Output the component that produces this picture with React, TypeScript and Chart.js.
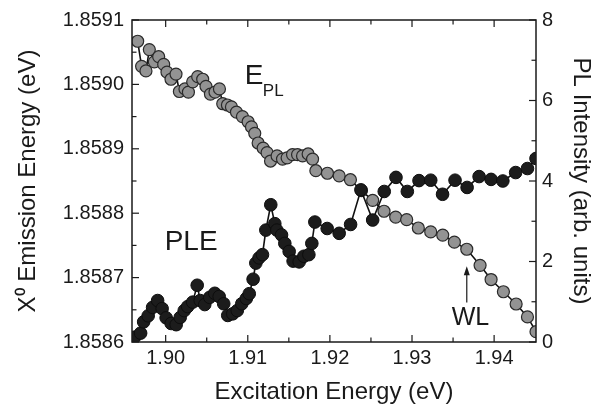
import React, { useEffect, useRef } from "react";
import { Chart, registerables } from "chart.js";

Chart.register(...registerables);

// E_PL (left axis, eV) — grey markers
const plX = [
  1.89659, 1.89707, 1.8976, 1.89801, 1.89862, 1.89915, 1.89976, 1.90016, 1.90065, 1.90126,
  1.90167, 1.90235, 1.90277, 1.90329, 1.9039, 1.90451, 1.90491, 1.90545, 1.90601, 1.90655,
  1.90695, 1.90752, 1.90801, 1.90862, 1.90935, 1.91004, 1.91045, 1.91085, 1.91126, 1.91187,
  1.91235, 1.91277, 1.91357, 1.91423, 1.91479, 1.91545, 1.91606, 1.91667, 1.91735, 1.91789,
  1.91829, 1.9197, 1.92113, 1.9225, 1.92384, 1.92521, 1.92659, 1.92801, 1.92935, 1.93077,
  1.93228, 1.93374, 1.93516, 1.93667, 1.93829, 1.93963, 1.94113, 1.94268, 1.94406, 1.9451,
];
const plY = [
  1.859067, 1.859028, 1.859021, 1.859054, 1.859035, 1.859043, 1.859031, 1.859019, 1.859008, 1.859016,
  1.858989, 1.858993, 1.858988, 1.859004, 1.859012, 1.859008, 1.858997, 1.858985, 1.858988, 1.858993,
  1.85897, 1.858968, 1.858965, 1.858957, 1.85895, 1.858942, 1.858934, 1.858924, 1.858909, 1.858901,
  1.858894, 1.858881, 1.858889, 1.858884, 1.858886, 1.858891, 1.858891, 1.858889, 1.858892, 1.858884,
  1.858866, 1.858862, 1.858858, 1.858852, 1.858835, 1.85882, 1.858803, 1.858794, 1.85879, 1.858777,
  1.858771, 1.858766, 1.858755, 1.858744, 1.858719, 1.858697, 1.858678, 1.858659, 1.858639, 1.858616,
];

// PLE (right axis, arb. units) — black markers
const pleX = [
  1.89622, 1.89695, 1.89732, 1.89787, 1.89841, 1.89902, 1.89957, 1.90006, 1.90067, 1.90128,
  1.90177, 1.90226, 1.90268, 1.90329, 1.90384, 1.90421, 1.90476, 1.90537, 1.90598, 1.90652,
  1.90707, 1.90756, 1.90817, 1.90872, 1.90927, 1.90982, 1.91018, 1.91065, 1.91098, 1.91138,
  1.91179, 1.9122, 1.9128, 1.91329, 1.91354, 1.91411, 1.91451, 1.91504, 1.91552, 1.91626,
  1.91683, 1.91744, 1.9178, 1.91817, 1.91967, 1.92113, 1.92252, 1.92378, 1.92521, 1.92662,
  1.92805, 1.92943, 1.93085, 1.93228, 1.93372, 1.93524, 1.93671, 1.93817, 1.93963, 1.94106,
  1.94262, 1.94406, 1.9451,
];
const pleY = [
  0.12, 0.22, 0.5, 0.65, 0.86, 1.03, 0.83, 0.6, 0.46, 0.43,
  0.61, 0.78, 0.88, 0.99, 1.41, 1.03, 0.93, 1.11, 1.21, 1.13,
  0.95, 0.66, 0.7, 0.78, 0.95, 1.08, 1.2, 1.56, 1.96, 2.09,
  2.17, 2.78, 3.41, 2.94, 2.78, 2.66, 2.45, 2.25, 2.01, 1.99,
  2.13, 2.17, 2.45, 2.98, 2.82, 2.7, 2.92, 3.78, 3.03, 3.74,
  4.09, 3.74, 4.01, 4.02, 3.67, 4.02, 3.84, 4.11, 4.04, 4.0,
  4.21, 4.31, 4.56,
];

const xTicks = [1.9, 1.91, 1.92, 1.93, 1.94];
const xMinor = [1.905, 1.915, 1.925, 1.935];
const leftTicks = [1.8586, 1.8587, 1.8588, 1.8589, 1.859, 1.8591];
const leftMinor = [1.85865, 1.85875, 1.85885, 1.85895, 1.85905];
const rightTicks = [0, 2, 4, 6, 8];
const rightMinor = [1, 3, 5, 7];

const FONT = "'Liberation Sans', Arial, Helvetica, sans-serif";
const INK = "#1a1a1a";

const decorPlugin = {
  id: "decor",
  afterDatasetsDraw(chart: any) {
    const { ctx, chartArea, scales } = chart;
    const { left, right, top, bottom } = chartArea;
    const sx = scales.x, sy = scales.y, sr = scales.y1;
    ctx.save();
    ctx.strokeStyle = INK;
    ctx.lineWidth = 1.5;
    ctx.strokeRect(left, top, right - left, bottom - top);
    ctx.lineWidth = 1.2;
    const MAJ = 7, MIN = 4.5;
    const hTick = (v: number, len: number) => {
      const p = sx.getPixelForValue(v);
      ctx.beginPath();
      ctx.moveTo(p, bottom); ctx.lineTo(p, bottom - len);
      ctx.moveTo(p, top); ctx.lineTo(p, top + len);
      ctx.stroke();
    };
    xTicks.forEach((v) => hTick(v, MAJ));
    xMinor.forEach((v) => hTick(v, MIN));
    const lTick = (v: number, len: number) => {
      const p = sy.getPixelForValue(v);
      ctx.beginPath(); ctx.moveTo(left, p); ctx.lineTo(left + len, p); ctx.stroke();
    };
    leftTicks.forEach((v) => lTick(v, MAJ));
    leftMinor.forEach((v) => lTick(v, MIN));
    const rTick = (v: number, len: number) => {
      const p = sr.getPixelForValue(v);
      ctx.beginPath(); ctx.moveTo(right, p); ctx.lineTo(right - len, p); ctx.stroke();
    };
    rightTicks.forEach((v) => rTick(v, MAJ));
    rightMinor.forEach((v) => rTick(v, MIN));

    // annotations
    ctx.fillStyle = INK;
    ctx.textBaseline = "alphabetic";
    ctx.textAlign = "left";
    ctx.font = `28px ${FONT}`;
    ctx.fillText("E", sx.getPixelForValue(1.90963), sy.getPixelForValue(1.859));
    ctx.font = `17px ${FONT}`;
    ctx.fillText("PL", sx.getPixelForValue(1.91183), sy.getPixelForValue(1.858982));
    ctx.font = `28px ${FONT}`;
    ctx.fillText("PLE", sx.getPixelForValue(1.89988), sr.getPixelForValue(2.275));
    ctx.font = `25px ${FONT}`;
    ctx.fillText("WL", sx.getPixelForValue(1.93484), sr.getPixelForValue(0.416));

    // WL arrow
    const ax = sx.getPixelForValue(1.93667);
    const ay1 = sr.getPixelForValue(0.98);
    const ay0 = sr.getPixelForValue(1.88);
    ctx.lineWidth = 1.2;
    ctx.beginPath(); ctx.moveTo(ax, ay1); ctx.lineTo(ax, ay0 + 4); ctx.stroke();
    ctx.beginPath();
    ctx.moveTo(ax, ay0); ctx.lineTo(ax - 3, ay0 + 9); ctx.lineTo(ax + 3, ay0 + 9); ctx.closePath();
    ctx.fill();
    ctx.restore();
  },
};

export default function App() {
  const ref = useRef<HTMLCanvasElement | null>(null);
  useEffect(() => {
    if (!ref.current) return;
    const chart = new Chart(ref.current, {
      type: "scatter",
      data: {
        datasets: [
          {
            label: "PLE",
            data: pleX.map((x, i) => ({ x, y: pleY[i] })),
            yAxisID: "y1",
            showLine: true,
            borderColor: "#111",
            borderWidth: 1.6,
            pointRadius: 6.3,
            pointBackgroundColor: "#1c1c1c",
            pointBorderColor: "#0d0d0d",
            pointBorderWidth: 1,
            clip: 0,
            order: 0,
          },
          {
            label: "E_PL",
            data: plX.map((x, i) => ({ x, y: plY[i] })),
            yAxisID: "y",
            showLine: true,
            borderColor: "#111",
            borderWidth: 1.6,
            pointRadius: 6,
            pointBackgroundColor: "#939393",
            pointBorderColor: "#2a2a2a",
            pointBorderWidth: 1.2,
            clip: 0,
            order: 1,
          },
        ],
      } as any,
      options: {
        animation: false,
        responsive: false,
        events: [],
        plugins: { legend: { display: false }, tooltip: { enabled: false } },
        layout: { padding: { top: 15, left: 0, right: 0, bottom: 0 } },
        scales: {
          x: {
            type: "linear",
            position: "bottom",
            min: 1.8959,
            max: 1.9451,
            afterBuildTicks: (s: any) => { s.ticks = xTicks.map((v) => ({ value: v })); },
            afterFit: (s: any) => { s.height = 72; },
            grid: { display: false, drawTicks: false },
            border: { display: false },
            ticks: {
              padding: 4,
              autoSkip: false,
              maxRotation: 0,
              color: INK,
              font: { size: 20, family: FONT },
              callback: (v: any) => Number(v).toFixed(2),
            },
            title: {
              display: true,
              text: "Excitation Energy (eV)",
              color: INK,
              font: { size: 24, family: FONT },
              padding: { top: 0, bottom: 7 },
            },
          },
          y: {
            type: "linear",
            position: "left",
            min: 1.8586,
            max: 1.8591,
            afterBuildTicks: (s: any) => { s.ticks = leftTicks.map((v) => ({ value: v })); },
            afterFit: (s: any) => { s.width = 132; },
            grid: { display: false, drawTicks: false },
            border: { display: false },
            ticks: {
              padding: 8,
              autoSkip: false,
              color: INK,
              font: { size: 20, family: FONT },
              callback: (v: any) => Number(v).toFixed(4),
            },
            title: {
              display: true,
              text: "X\u2070 Emission Energy (eV)",
              color: INK,
              font: { size: 24, family: FONT },
              padding: { top: 14, bottom: 0 },
            },
          },
          y1: {
            type: "linear",
            position: "right",
            min: 0,
            max: 8,
            afterBuildTicks: (s: any) => { s.ticks = rightTicks.map((v) => ({ value: v })); },
            afterFit: (s: any) => { s.width = 66; },
            grid: { display: false, drawTicks: false },
            border: { display: false },
            ticks: {
              padding: 6,
              autoSkip: false,
              color: INK,
              font: { size: 20, family: FONT },
              callback: (v: any) => String(v),
            },
            title: {
              display: true,
              text: "PL Intensity (arb. units)",
              color: INK,
              font: { size: 24, family: FONT },
              padding: { top: 7, bottom: 0 },
            },
          },
        },
      } as any,
      plugins: [decorPlugin],
    });
    return () => chart.destroy();
  }, []);
  return (
    <div style={{ position: "absolute", left: 0, top: 0, width: 602, height: 414, background: "#fff" }}>
      <canvas ref={ref} width={602} height={414} style={{ display: "block", width: 602, height: 414 }} />
    </div>
  );
}
